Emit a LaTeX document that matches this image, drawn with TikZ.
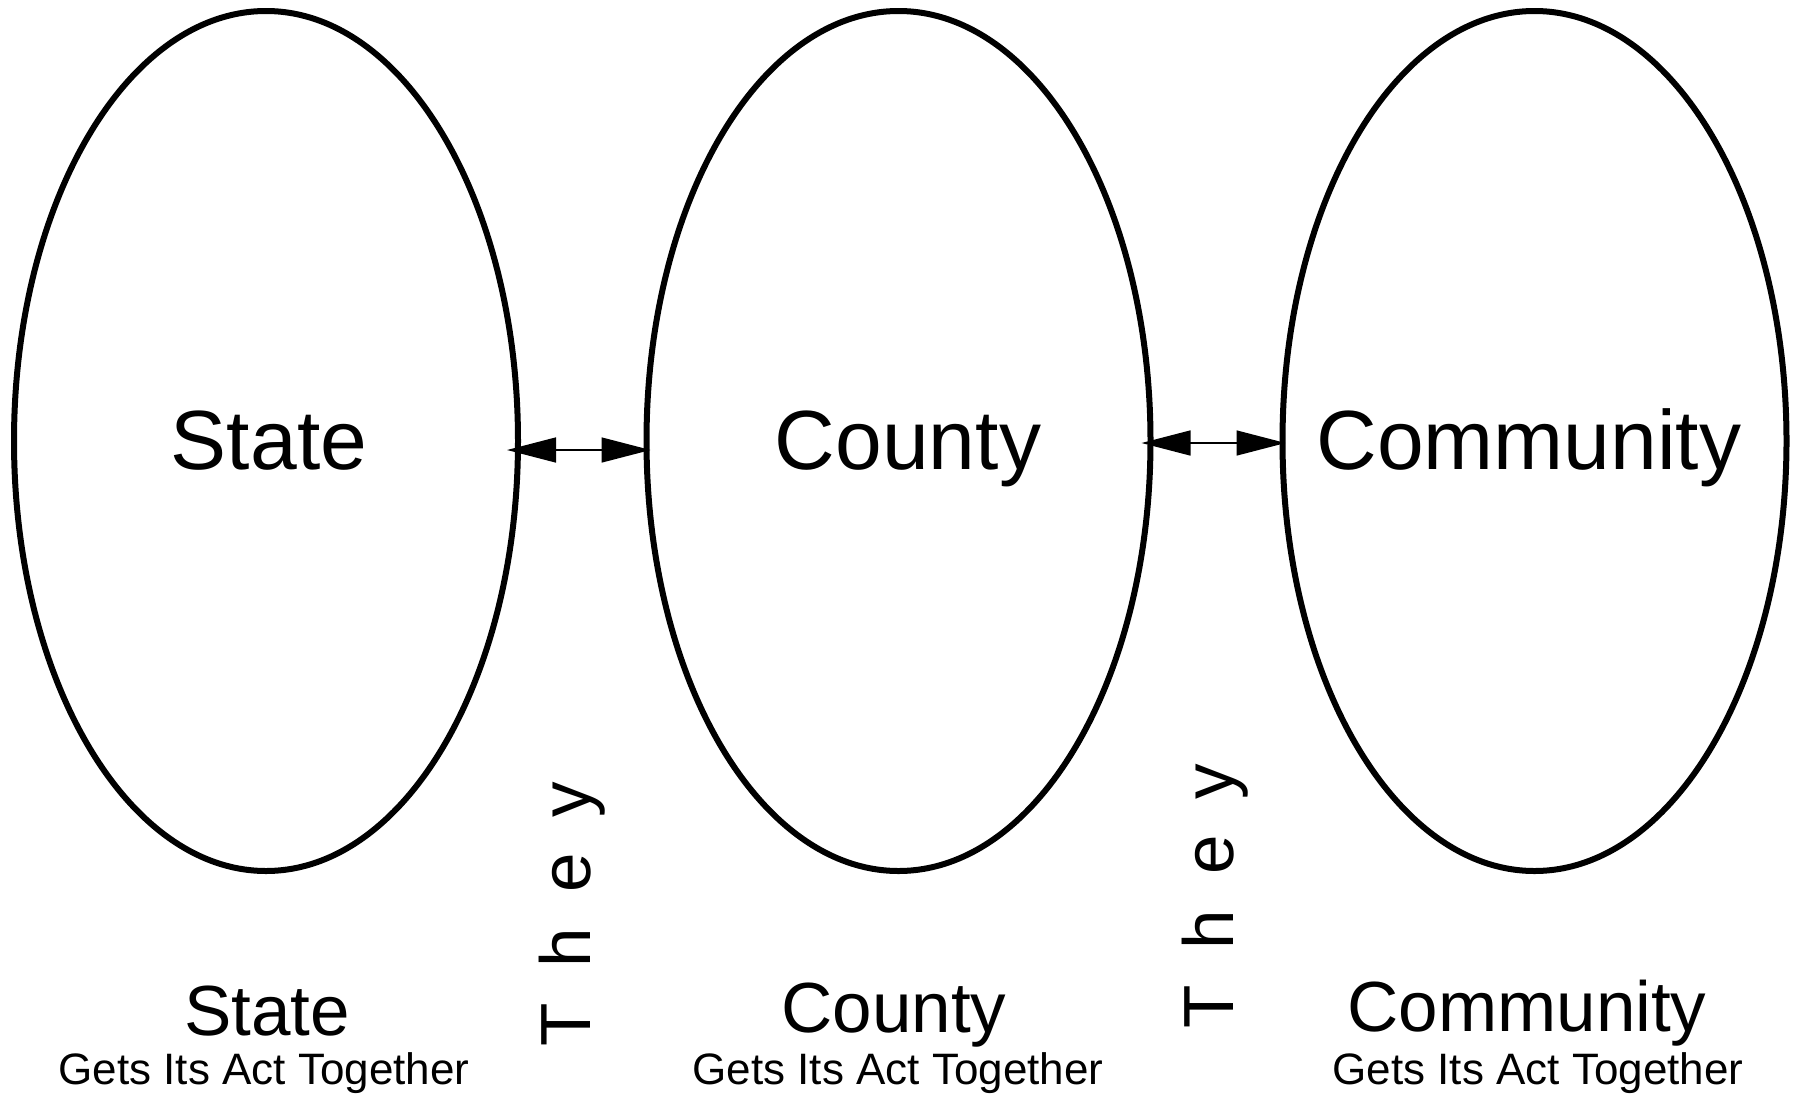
\documentclass[tikz,border=0pt]{standalone}
\usepackage{fontspec}
\setmainfont{Liberation Sans}
\usetikzlibrary{shapes.geometric,arrows.meta}

\begin{document}
\begin{tikzpicture}[x=1pt,y=-1pt,
  oval/.style={draw=black, line width=6pt, ellipse, inner sep=0pt,
    minimum width=504pt, minimum height=860pt},
  bigname/.style={anchor=base, inner sep=0pt, font=\fontsize{84}{100}\selectfont},
  subname/.style={anchor=base, inner sep=0pt, font=\fontsize{71}{80}\selectfont},
  tagline/.style={anchor=base, inner sep=0pt, font=\fontsize{44}{50}\selectfont},
  theylabel/.style={anchor=base west, rotate=90, inner sep=0pt,
    font=\fontsize{71}{80}\selectfont\addfontfeature{LetterSpace=50}},
  link/.style={line width=1.5pt, {Triangle[length=49pt,width=25pt]}-{Triangle[length=49pt,width=25pt]}}
]
\useasboundingbox (0,0) rectangle (1793,1095);

% the three levels
\node[oval] (state) at (266,441) {};
\node[oval] (county) at (898.5,441) {};
\node[oval] (community) at (1534.5,441) {};

\node[bigname] (statename) at (269,469) {State};
\node[bigname] (countyname) at (908,469) {County};
\node[bigname] (communityname) at (1529,469) {Community};

% two-way links between neighbouring levels
\draw[link, shorten <=-14pt, shorten >=-7pt]
  ([yshift=-9pt]state.east) -- ([yshift=-9pt]county.west);
\draw[link, shorten <=-12pt, shorten >=-6pt]
  ([yshift=-2pt]county.east) -- ([yshift=-2pt]community.west);

% vertical captions between the ovals
\node[theylabel] (they1) at (590,1047) {They};
\node[theylabel] (they2) at (1233,1029) {They};

% captions under the ovals
\node[subname] (statecap) at (267,1035) {State};
\node[tagline] (stateact) at (264,1084) {Gets Its Act Together};
\node[subname] (countycap) at (894,1032) {County};
\node[tagline] (countyact) at (898,1084) {Gets Its Act Together};
\node[subname] (communitycap) at (1527,1031) {Community};
\node[tagline] (communityact) at (1538,1084) {Gets Its Act Together};
\end{tikzpicture}
\end{document}
